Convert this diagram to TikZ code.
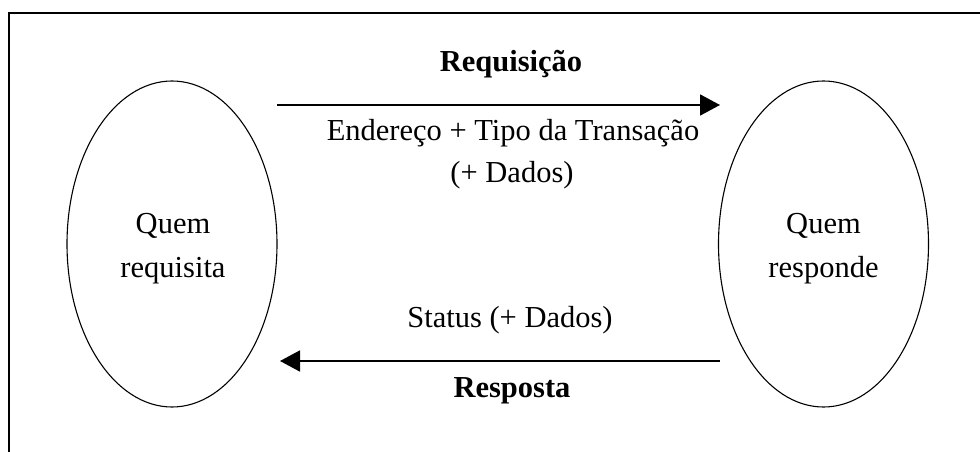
\documentclass[tikz,border=0pt]{standalone}
\usepackage{fontspec}
\setmainfont{Liberation Serif}
\usetikzlibrary{arrows.meta,shapes.geometric}
\begin{document}
\begin{tikzpicture}[x=1pt,y=-1pt,
  lbl/.style={inner sep=0pt, anchor=base, font=\fontsize{30.5}{42}\selectfont},
  blbl/.style={lbl, font=\fontsize{30.5}{42}\selectfont\bfseries},
  party/.style={draw, ellipse, line width=1.1pt, minimum width=210pt, minimum height=326pt, inner sep=0pt},
  msg/.style={line width=1.8pt, -{Triangle[length=20pt,width=21pt]}}]
\useasboundingbox (0,0) rectangle (980,452);
\clip (0,0) rectangle (980,452);
\draw[line width=1.3pt] (9,13) rectangle (1010,480);
\node[party] (req) at (172,244) {};
\node[party] (resp) at (823.5,244) {};
\node[lbl] (req1) at (173,233) {Quem};
\node[lbl] (req2) at (173,277) {requisita};
\node[lbl] (resp1) at (823.5,233) {Quem};
\node[lbl] (resp2) at (823.5,277) {responde};
\coordinate (a1) at (277,105);
\coordinate (a2) at (720,105);
\coordinate (b1) at (720,361);
\coordinate (b2) at (280,361);
\draw[msg] (a1) -- (a2);
\draw[msg] (b1) -- (b2);
\node[blbl] (t1) at (511,72) {Requisição};
\node[lbl] (t2) at (513,140) {Endereço + Tipo da Transação};
\node[lbl] (t3) at (512,182) {(+ Dados)};
\node[lbl] (t4) at (510,327) {Status (+ Dados)};
\node[blbl] (t5) at (512,397) {Resposta};
\end{tikzpicture}
\end{document}
